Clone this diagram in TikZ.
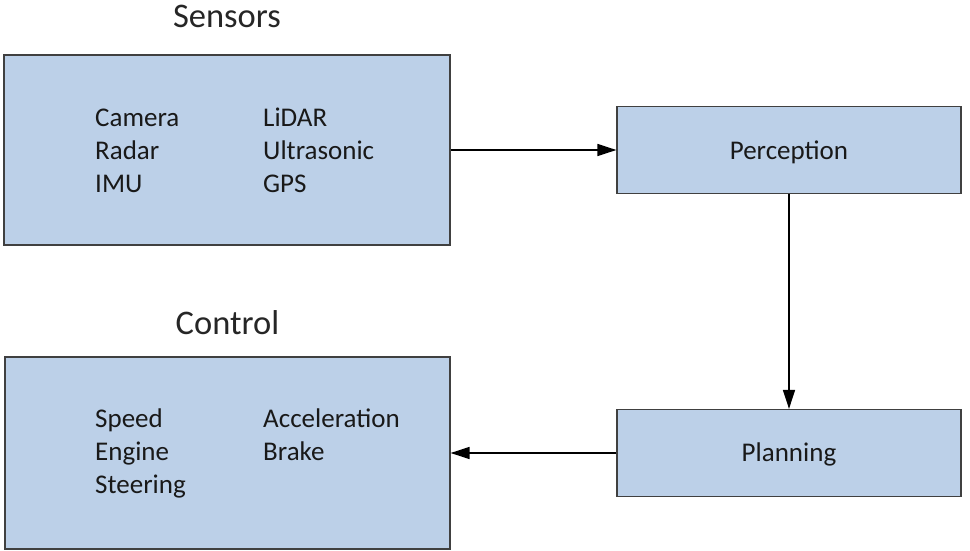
\documentclass[tikz,border=0pt]{standalone}
\usepackage{fontspec}
\setmainfont{Carlito}
\usetikzlibrary{arrows.meta}

\definecolor{boxfill}{HTML}{BCD0E8}
\definecolor{boxline}{HTML}{404040}

\tikzset{
  block/.style={draw=boxline, line width=1.2pt, fill=boxfill, rectangle, inner sep=0pt},
  title/.style={anchor=base, inner sep=0pt, font=\fontsize{34.5}{40}\selectfont, text=black!85},
  item/.style={anchor=base west, inner sep=0pt, font=\fontsize{27}{33}\selectfont, text=black!90},
  label/.style={anchor=base, inner sep=0pt, font=\fontsize{27}{33}\selectfont, text=black!90},
  flow/.style={draw=black, line width=1.5pt, -{Triangle[length=19pt,width=12pt]}}
}

\begin{document}
\begin{tikzpicture}[x=1pt, y=-1pt]
  \useasboundingbox (0,0) rectangle (970,551);

  % sensor suite
  \node[block, minimum width=446pt, minimum height=190pt] (sensors) at (227,150) {};
  \node[title] (sensorsTitle) at (227,28) {Sensors};
  \node[item] (camera) at (95,126) {Camera};
  \node[item] (radar) at (95,159) {Radar};
  \node[item] (imu) at (95,192) {IMU};
  \node[item] (lidar) at (263,126) {LiDAR};
  \node[item] (ultra) at (263,159) {Ultrasonic};
  \node[item] (gps) at (263,192) {GPS};

  % vehicle control
  \node[block, minimum width=445pt, minimum height=192pt] (control) at (227.5,453) {};
  \node[title] (controlTitle) at (227.5,334) {Control};
  \node[item] (speed) at (95,427) {Speed};
  \node[item] (engine) at (95,460) {Engine};
  \node[item] (steering) at (95,493) {Steering};
  \node[item] (accel) at (263,427) {Acceleration};
  \node[item] (brake) at (263,460) {Brake};

  % processing stages
  \node[block, minimum width=344pt, minimum height=87pt] (perception) at (789,150) {};
  \node[label] (perceptionText) at (789,159) {Perception};
  \node[block, minimum width=344pt, minimum height=87pt] (planning) at (789,453) {};
  \node[label] (planningText) at (789,461) {Planning};

  % data flow
  \draw[flow] (sensors.east) -- (perception.west);
  \draw[flow] (perception.south) -- (planning.north);
  \draw[flow] (planning.west) -- (control.east);
\end{tikzpicture}
\end{document}
